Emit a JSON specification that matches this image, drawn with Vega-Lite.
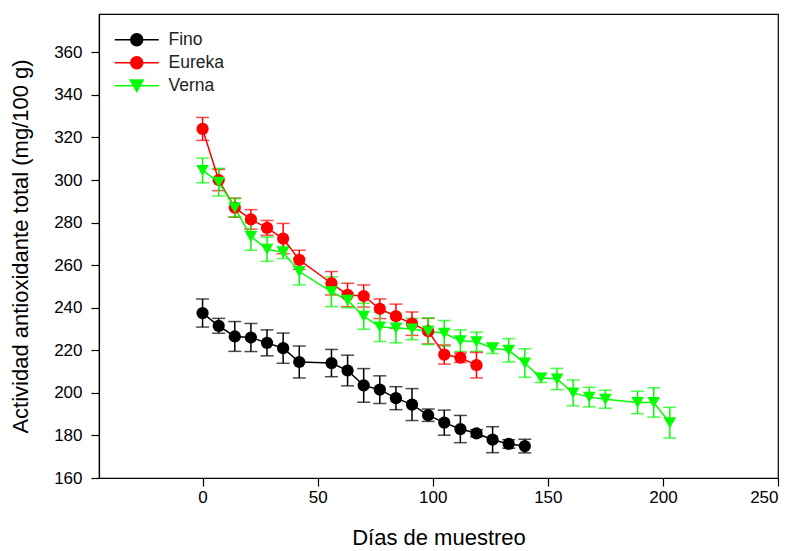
{
  "$schema": "https://vega.github.io/schema/vega-lite/v6.json",
  "width": 679,
  "height": 464,
  "autosize": "none",
  "padding": {"left": 99, "top": 14, "right": 17, "bottom": 73},
  "background": "white",
  "config": {
    "font": "Liberation Sans",
    "view": {"stroke": "black", "strokeWidth": 1.2},
    "axis": {
      "grid": false,
      "domainColor": "black",
      "domainWidth": 1.2,
      "tickColor": "black",
      "tickWidth": 1.2,
      "tickSize": 8,
      "labelFont": "Liberation Sans",
      "labelFontSize": 17,
      "labelColor": "black",
      "titleFont": "Liberation Sans",
      "titleFontSize": 22,
      "titleFontWeight": "normal",
      "titleColor": "black"
    }
  },
  "data": {
    "values": [
      {"series": "Fino", "day": 0, "v": 237.5, "e": 6.6},
      {"series": "Fino", "day": 7, "v": 231.5, "e": 3.5},
      {"series": "Fino", "day": 14, "v": 226.5, "e": 7},
      {"series": "Fino", "day": 21, "v": 226, "e": 6.6},
      {"series": "Fino", "day": 28, "v": 223.5, "e": 6.1},
      {"series": "Fino", "day": 35, "v": 221, "e": 7.1},
      {"series": "Fino", "day": 42, "v": 214.5, "e": 7.5},
      {"series": "Fino", "day": 56, "v": 214, "e": 6.4},
      {"series": "Fino", "day": 63, "v": 210.5, "e": 7.2},
      {"series": "Fino", "day": 70, "v": 203.5, "e": 7.9},
      {"series": "Fino", "day": 77, "v": 201.5, "e": 6.5},
      {"series": "Fino", "day": 84, "v": 197.5, "e": 5.4},
      {"series": "Fino", "day": 91, "v": 194.5, "e": 7.5},
      {"series": "Fino", "day": 98, "v": 189.5, "e": 2.9},
      {"series": "Fino", "day": 105, "v": 186, "e": 5.9},
      {"series": "Fino", "day": 112, "v": 183, "e": 6.4},
      {"series": "Fino", "day": 119, "v": 181, "e": 1.7},
      {"series": "Fino", "day": 126, "v": 178, "e": 6.1},
      {"series": "Fino", "day": 133, "v": 176, "e": 2},
      {"series": "Fino", "day": 140, "v": 175, "e": 3.2},
      {"series": "Eureka", "day": 0, "v": 324, "e": 5.4},
      {"series": "Eureka", "day": 7, "v": 300, "e": 5},
      {"series": "Eureka", "day": 14, "v": 287, "e": 4.5},
      {"series": "Eureka", "day": 21, "v": 281.5, "e": 4.6},
      {"series": "Eureka", "day": 28, "v": 277.5, "e": 3.5},
      {"series": "Eureka", "day": 35, "v": 272.5, "e": 7.1},
      {"series": "Eureka", "day": 42, "v": 262.5, "e": 4.5},
      {"series": "Eureka", "day": 56, "v": 251.5, "e": 5.5},
      {"series": "Eureka", "day": 63, "v": 246, "e": 5.5},
      {"series": "Eureka", "day": 70, "v": 245.5, "e": 5.2},
      {"series": "Eureka", "day": 77, "v": 239.5, "e": 4.6},
      {"series": "Eureka", "day": 84, "v": 236, "e": 5.7},
      {"series": "Eureka", "day": 91, "v": 232.5, "e": 5.5},
      {"series": "Eureka", "day": 98, "v": 229, "e": 6},
      {"series": "Eureka", "day": 105, "v": 218, "e": 4.5},
      {"series": "Eureka", "day": 112, "v": 216.5, "e": 2.2},
      {"series": "Eureka", "day": 119, "v": 213, "e": 6},
      {"series": "Verna", "day": 0, "v": 304.5, "e": 5.8},
      {"series": "Verna", "day": 7, "v": 299, "e": 6.5},
      {"series": "Verna", "day": 14, "v": 287, "e": 4.3},
      {"series": "Verna", "day": 21, "v": 273.5, "e": 6.5},
      {"series": "Verna", "day": 28, "v": 267.5, "e": 5.7},
      {"series": "Verna", "day": 35, "v": 266, "e": 2.9},
      {"series": "Verna", "day": 42, "v": 257, "e": 6.3},
      {"series": "Verna", "day": 56, "v": 247.5, "e": 7},
      {"series": "Verna", "day": 63, "v": 243.5, "e": 3.5},
      {"series": "Verna", "day": 70, "v": 236, "e": 6.1},
      {"series": "Verna", "day": 77, "v": 231, "e": 6.9},
      {"series": "Verna", "day": 84, "v": 230.5, "e": 7},
      {"series": "Verna", "day": 91, "v": 230, "e": 5},
      {"series": "Verna", "day": 98, "v": 229, "e": 6.3},
      {"series": "Verna", "day": 105, "v": 228, "e": 6},
      {"series": "Verna", "day": 112, "v": 224.5, "e": 5.1},
      {"series": "Verna", "day": 119, "v": 224, "e": 4.5},
      {"series": "Verna", "day": 126, "v": 221, "e": 2.5},
      {"series": "Verna", "day": 133, "v": 220, "e": 5.5},
      {"series": "Verna", "day": 140, "v": 214, "e": 6.7},
      {"series": "Verna", "day": 147, "v": 207, "e": 2.1},
      {"series": "Verna", "day": 154, "v": 206.5, "e": 5},
      {"series": "Verna", "day": 161, "v": 200, "e": 6.1},
      {"series": "Verna", "day": 168, "v": 198, "e": 4.6},
      {"series": "Verna", "day": 175, "v": 197, "e": 4.2},
      {"series": "Verna", "day": 189, "v": 195.5, "e": 5.3},
      {"series": "Verna", "day": 196, "v": 195.5, "e": 6.9},
      {"series": "Verna", "day": 203, "v": 186, "e": 7.2}
    ]
  },
  "encoding": {
    "x": {
      "field": "day", "type": "quantitative",
      "scale": {"domain": [-45, 250], "nice": false, "zero": false},
      "axis": {"values": [0, 50, 100, 150, 200, 250], "title": "Días de muestreo", "labelPadding": 3, "titlePadding": 22}
    },
    "color": {
      "field": "series", "type": "nominal",
      "scale": {"domain": ["Fino", "Eureka", "Verna"], "range": ["#000000", "#ff0000", "#00ff00"]},
      "legend": {
        "title": null,
        "orient": "none",
        "legendX": 29,
        "legendY": 17,
        "padding": 0,
        "symbolSize": 144,
        "rowPadding": 4,
        "labelOffset": 23,
        "labelFont": "Liberation Sans",
        "labelFontSize": 17.5,
        "labelColor": "#222222",
        "symbolStrokeWidth": 1.5,
        "symbolOpacity": 1,
        "encode": {
          "symbols": {
            "update": {
              "shape": {"signal": "datum.value === 'Verna' ? 'M-3.67,0H3.67M0,0.94L-1.08,-0.94L1.08,-0.94Z' : 'M-3.67,0H3.67M-1,0a1,1 0 1,0 2,0a1,1 0 1,0 -2,0'"},
              "strokeWidth": {"value": 1.5}
            }
          }
        }
      }
    }
  },
  "layer": [
    {
      "mark": {"type": "errorbar", "ticks": {"size": 13, "thickness": 1.5}, "rule": {"strokeWidth": 1.5}},
      "encoding": {
        "y": {
          "field": "v", "type": "quantitative",
          "scale": {"domain": [160, 378], "nice": false, "zero": false},
          "axis": {"values": [160, 180, 200, 220, 240, 260, 280, 300, 320, 340, 360], "title": "Actividad antioxidante total (mg/100 g)", "labelPadding": 9, "titlePadding": 21}
        },
        "yError": {"field": "e"}
      }
    },
    {
      "mark": {"type": "line", "strokeWidth": 1.5},
      "encoding": {
        "y": {"field": "v", "type": "quantitative"}
      }
    },
    {
      "transform": [{"filter": "datum.series !== 'Verna'"}],
      "mark": {"type": "point", "shape": "circle", "filled": true, "opacity": 1, "size": 150},
      "encoding": {
        "y": {"field": "v", "type": "quantitative"}
      }
    },
    {
      "transform": [{"filter": "datum.series === 'Verna'"}],
      "mark": {"type": "point", "shape": "triangle-down", "filled": true, "opacity": 1, "size": 160},
      "encoding": {
        "y": {"field": "v", "type": "quantitative"}
      }
    }
  ]
}
